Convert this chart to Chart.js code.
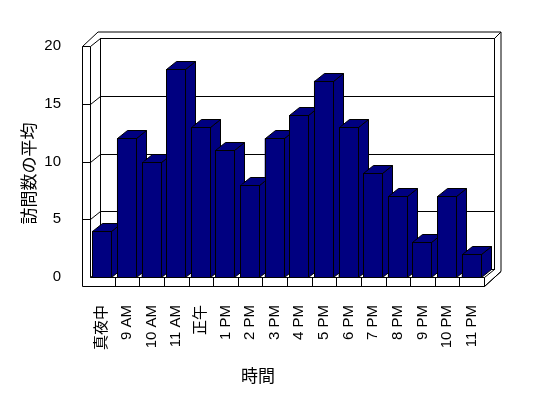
<!DOCTYPE html>
<html>
<head>
<meta charset="utf-8">
<script src="https://cdn.jsdelivr.net/npm/chart.js@4/dist/chart.umd.min.js"></script>
<style>
  html, body { margin: 0; padding: 0; background: #fff; }
  #wrap { width: 548px; height: 398px; }
</style>
</head>
<body>
<div id="wrap"><canvas id="chart" width="548" height="398"></canvas></div>
<script>
// data
const hours = ["真夜中", "9 AM", "10 AM", "11 AM", "正午", "1 PM", "2 PM", "3 PM",
  "4 PM", "5 PM", "6 PM", "7 PM", "8 PM", "9 PM", "10 PM", "11 PM"];
const avgVisits = [4, 12, 10, 18, 13, 11, 8, 12, 14, 17, 13, 9, 7, 3, 7, 2];
const yMin = 0;
const yMax = 20;
const yStep = 5;
const xTitle = "時間";
const yTitle = "訪問数の平均";

const NAVY = "#000080";
const DX = 10, DY = -8;   // depth offset of the 3d box
const WALL = 8;           // wall / floor thickness

function line(ctx, x1, y1, x2, y2) {
  ctx.beginPath();
  ctx.moveTo(x1, y1);
  ctx.lineTo(x2, y2);
  ctx.stroke();
}

function poly(ctx, pts, fill) {
  ctx.beginPath();
  ctx.moveTo(pts[0][0], pts[0][1]);
  for (let i = 1; i < pts.length; i++) ctx.lineTo(pts[i][0], pts[i][1]);
  ctx.closePath();
  if (fill) { ctx.fillStyle = fill; ctx.fill(); }
  ctx.stroke();
}

// pixel-snapped edges of one bar element
function barBox(bar) {
  return {
    l: Math.round(bar.x - bar.width / 2) + 0.5,
    r: Math.round(bar.x + bar.width / 2) - 0.5,
    t: Math.round(bar.y) + 0.5,
    b: Math.round(bar.base) + 0.5
  };
}

// walls, floor, gridlines and the side/top faces of the bars
const box3d = {
  id: "box3d",
  beforeDatasetsDraw(chart) {
    const ctx = chart.ctx;
    const a = chart.chartArea;
    const L = Math.round(a.left) + 0.5, R = Math.round(a.right) + 0.5;
    const T = Math.round(a.top) + 0.5, B = Math.round(a.bottom) + 0.5;
    const yS = chart.scales.y, xS = chart.scales.x;
    ctx.save();
    ctx.lineWidth = 1;
    ctx.strokeStyle = "#000";

    // outline of the whole box
    poly(ctx, [[L - WALL, T], [L - WALL + 15.5, T - 14.5], [R + DX + 6.5, T - 14.5],
      [R + DX + 6.5, B + DY + 2], [R, B + WALL + 1], [L - WALL, B + WALL + 1]], "#fff");

    // back wall
    ctx.strokeRect(L + DX, T + DY, R - L, B - T);
    line(ctx, R + DX, T + DY, R + DX + 6.5, T - 14.5);
    // left wall
    line(ctx, L - WALL, T, L, T);
    line(ctx, L, T, L + DX, T + DY);
    line(ctx, L, T, L, B);
    // floor
    line(ctx, L, B, R, B);
    line(ctx, L, B, L + DX, B + DY);
    line(ctx, R, B, R + DX, B + DY);
    line(ctx, R, B, R, B + WALL + 1);
    line(ctx, R, B + WALL + 1, R + DX + 6.5, B + DY + 2);

    // category dividers on the floor edge
    const n = hours.length;
    for (let i = 1; i < n; i++) {
      const xp = Math.round((xS.getPixelForTick(i - 1) + xS.getPixelForTick(i)) / 2) + 0.5;
      line(ctx, xp, B, xp, B + WALL + 1);
    }

    // gridlines
    for (let v = yMin + yStep; v < yMax; v += yStep) {
      const yp = Math.round(yS.getPixelForValue(v)) + 0.5;
      line(ctx, L - WALL, yp, L, yp);
      line(ctx, L, yp, L + DX, yp + DY);
      line(ctx, L + DX, yp + DY, R + DX, yp + DY);
    }

    // side and top faces of the bars, left to right
    chart.getDatasetMeta(0).data.forEach(bar => {
      const { l, r, t, b } = barBox(bar);
      poly(ctx, [[r, t], [r + DX, t + DY], [r + DX, b + DY], [r, b]], NAVY);
      poly(ctx, [[l, t], [r, t], [r + DX, t + DY], [l + DX, t + DY]], NAVY);
    });
    ctx.restore();
  },
  afterDatasetsDraw(chart) {
    // crisp black edge round each bar front
    const ctx = chart.ctx;
    ctx.save();
    ctx.lineWidth = 1;
    ctx.strokeStyle = "#000";
    chart.getDatasetMeta(0).data.forEach(bar => {
      const { l, r, t, b } = barBox(bar);
      ctx.strokeRect(l, t, r - l, b - t);
    });
    ctx.restore();
  },
  afterDraw(chart) {
    const ctx = chart.ctx;
    const a = chart.chartArea;
    ctx.save();
    ctx.fillStyle = "#000";
    ctx.font = '17px "Noto Sans CJK JP", sans-serif';
    ctx.textAlign = "center";
    ctx.textBaseline = "middle";
    ctx.fillText(xTitle, a.left + 168, 376);
    ctx.translate(29, (a.top + a.bottom) / 2 + 12);
    ctx.rotate(-Math.PI / 2);
    ctx.fillText(yTitle, 0, 0);
    ctx.restore();
  }
};

Chart.defaults.font.family = '"Liberation Sans", "Noto Sans CJK JP", sans-serif';
Chart.defaults.font.size = 15;
Chart.defaults.color = "#000";

new Chart(document.getElementById("chart"), {
  type: "bar",
  data: {
    labels: hours,
    datasets: [{
      label: yTitle,
      data: avgVisits,
      backgroundColor: NAVY,
      borderWidth: 0,
      categoryPercentage: 1,
      barPercentage: 0.81
    }]
  },
  options: {
    responsive: false,
    animation: false,
    devicePixelRatio: 1,
    layout: { padding: { left: 0, top: 46, right: 64, bottom: 0 } },
    plugins: {
      legend: { display: false },
      tooltip: { enabled: false }
    },
    scales: {
      x: {
        grid: { display: false },
        border: { display: false },
        ticks: { minRotation: 90, maxRotation: 90, autoSkip: false, padding: 20 },
        afterFit(scale) { scale.height = 121; }
      },
      y: {
        min: yMin,
        max: yMax,
        grid: { display: false },
        border: { display: false },
        ticks: { stepSize: yStep, padding: 21 },
        afterFit(scale) { scale.width = 90; }
      }
    }
  },
  plugins: [box3d]
});
</script>
</body>
</html>
